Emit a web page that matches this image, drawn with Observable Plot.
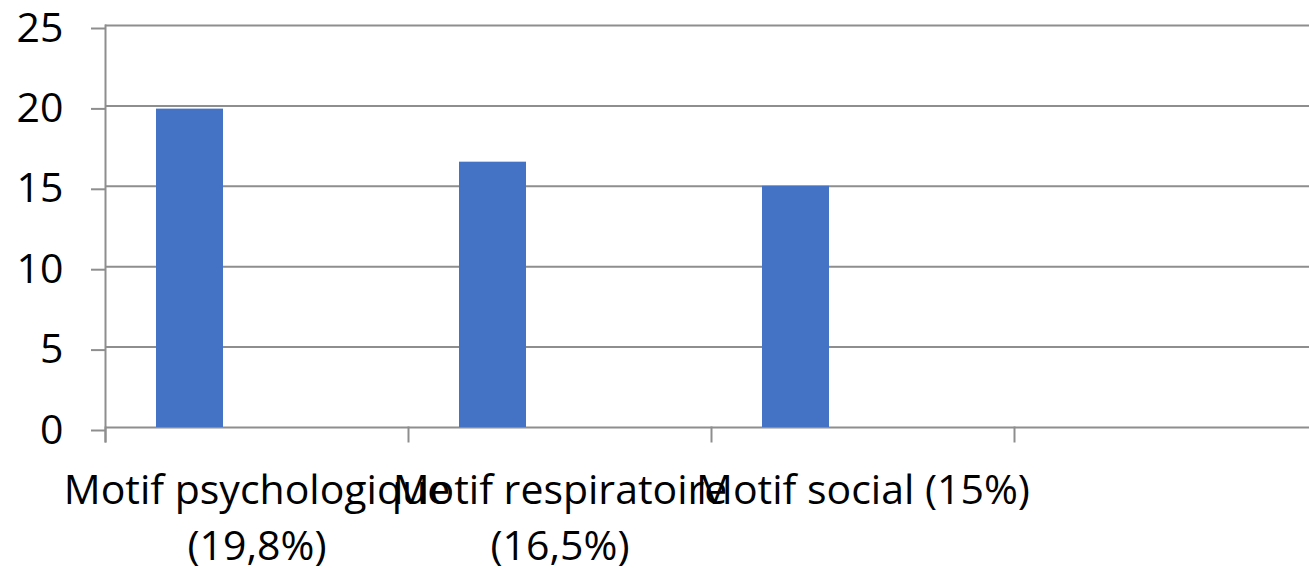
<!DOCTYPE html>
<html>
<head>
<meta charset="utf-8">
<script src="https://cdn.jsdelivr.net/npm/d3@7"></script>
<script src="https://cdn.jsdelivr.net/npm/@observablehq/plot@0.6"></script>
<style>
  html, body { margin: 0; padding: 0; background: #fff; overflow: hidden; }
  #chart { width: 1309px; height: 568px; overflow: hidden; }
  #chart svg { max-width: none !important; }
</style>
</head>
<body>
<div id="chart"></div>
<script>
// Data
const categories = ["Motif psychologique (19,8%)", "Motif respiratoire (16,5%)", "Motif social (15%)", ""];
const tickLabels = ["Motif psychologique\n(19,8%)", "Motif respiratoire\n(16,5%)", "Motif social (15%)", ""];
const series = ["Série 1", "Série 2", "Série 3"];
const values = [19.8, 16.5, 15, null];
const yTicks = [0, 5, 10, 15, 20, 25];

const data = categories.map((c, i) => ({category: c, series: series[0], value: values[i]}));

const gridColor = "#8e8e8e";
const width = 1318, height = 568;
const marginTop = 25, marginBottom = 141, marginLeft = 104;
const plotH = height - marginTop - marginBottom;

const chart = Plot.plot({
  width, height,
  marginTop, marginBottom, marginLeft, marginRight: 0,
  style: {fontFamily: "'Open Sans', sans-serif", color: "#000", background: "#fff", maxWidth: "none"},
  fx: {domain: categories, padding: 0, label: null, axis: null},
  x: {domain: series, paddingInner: 0, paddingOuter: 0.75, axis: null},
  y: {domain: [0, 25], axis: null},
  marks: [
    Plot.gridY(yTicks, {stroke: gridColor, strokeOpacity: 1, strokeWidth: 2}),
    Plot.frame({anchor: "left", stroke: gridColor, strokeWidth: 2, insetTop: plotH, insetBottom: -14}),
    Plot.frame({anchor: "left", stroke: gridColor, strokeWidth: 2, insetBottom: -14, facetAnchor: "left"}),
    Plot.axisY(yTicks, {
      anchor: "left", tickSize: 14, tickPadding: 28, stroke: gridColor, strokeWidth: 2,
      fontSize: 41, dy: 3, label: null, tickFormat: d => String(d)
    }),
    Plot.axisFx({
      anchor: "bottom", tickSize: 0, tickPadding: 36, fontSize: 41, lineHeight: 1.378,
      label: null, tickFormat: d => tickLabels[categories.indexOf(d)]
    }),
    Plot.barY(data, {fx: "category", x: "series", y: "value", fill: "#4472C4"})
  ]
});
document.getElementById("chart").appendChild(chart);
</script>
</body>
</html>
